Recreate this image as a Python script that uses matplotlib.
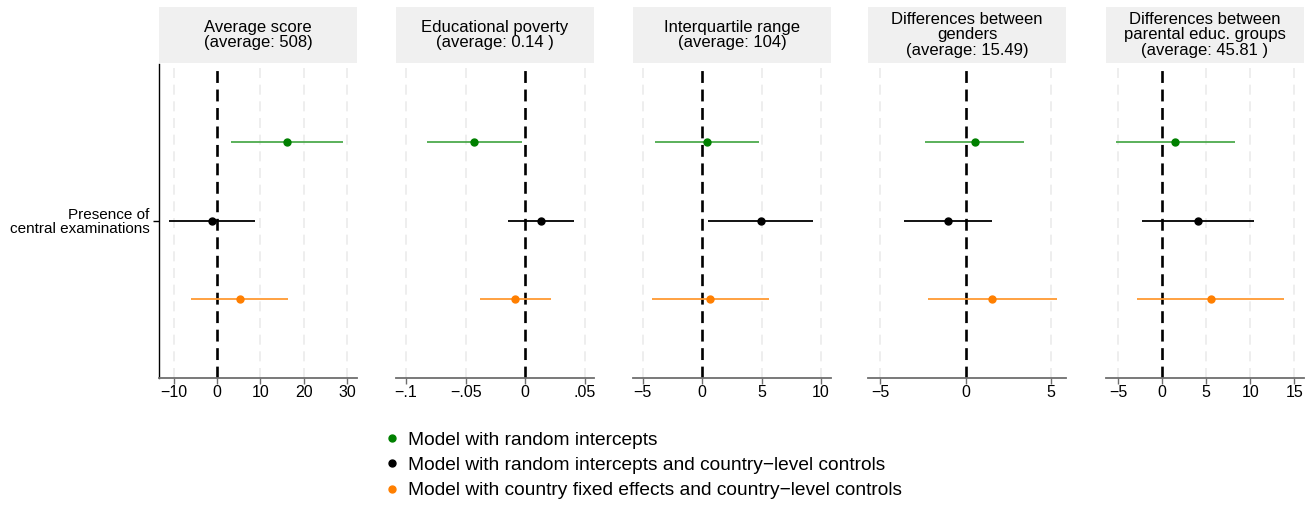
import matplotlib
matplotlib.use("Agg")
import matplotlib.pyplot as plt
from matplotlib.lines import Line2D

plt.rcParams["font.family"] = ["Liberation Sans", "DejaVu Sans"]

# panel titles
titles = [
    "Average score\n(average: 508)",
    "Educational poverty\n(average: 0.14 )",
    "Interquartile range\n(average: 104)",
    "Differences between\ngenders\n(average: 15.49)",
    "Differences between\nparental educ. groups\n(average: 45.81 )",
]

models = [
    "Model with random intercepts",
    "Model with random intercepts and country\u2212level controls",
    "Model with country fixed effects and country\u2212level controls",
]
point_colors = ["#008000", "#000000", "#FF7F00"]
line_colors = ["#4DAA4D", "#000000", "#FF9A33"]

# estimates per panel: [random intercepts, + controls, fixed effects]
est = [
    [16.2, -1.15, 5.2],
    [-0.0427, 0.0129, -0.0088],
    [0.42, 4.92, 0.67],
    [0.54, -1.02, 1.56],
    [1.47, 4.05, 5.52],
]
ci_low = [
    [3.3, -11.1, -5.9],
    [-0.0821, -0.0147, -0.0383],
    [-3.98, 0.53, -4.23],
    [-2.35, -3.57, -2.2],
    [-5.2, -2.3, -2.8],
]
ci_high = [
    [29.1, 8.85, 16.3],
    [-0.0023, 0.0407, 0.0216],
    [4.79, 9.33, 5.6],
    [3.41, 1.56, 5.32],
    [8.24, 10.4, 13.83],
]

xlims = [(-13.4, 32.3), (-0.1085, 0.0578), (-5.8, 10.84), (-5.7, 5.86), (-6.35, 16.1)]
xticks = [
    [-10, 0, 10, 20, 30],
    [-0.1, -0.05, 0, 0.05],
    [-5, 0, 5, 10],
    [-5, 0, 5],
    [-5, 0, 5, 10, 15],
]
xticklabels = [
    ["\u221210", "0", "10", "20", "30"],
    ["\u2212.1", "\u2212.05", "0", ".05"],
    ["\u22125", "0", "5", "10"],
    ["\u22125", "0", "5"],
    ["\u22125", "0", "5", "10", "15"],
]

W, H = 1313, 505
fig = plt.figure(figsize=(W / 100, H / 100), dpi=100)


def rect(x0, y0, x1, y1):
    return [x0 / W, 1 - y1 / H, (x1 - x0) / W, (y1 - y0) / H]


lefts = [159, 396, 633, 868, 1106]
pw = 198
rows = [1, 2, 3]

for i, left in enumerate(lefts):
    ax = fig.add_axes(rect(left, 63.5, left + pw, 377.5))
    ax.set_xlim(*xlims[i])
    ax.set_ylim(4, 0)
    for t in xticks[i]:
        if t != 0:
            ax.axvline(t, color="#EBEBEB", lw=1.2, ls=(0, (6, 4)), zorder=0)
    ax.axvline(0, color="black", lw=1.9, ls=(0, (4.5, 2.5)), zorder=1)
    for j in range(3):
        ax.plot([ci_low[i][j], ci_high[i][j]], [rows[j], rows[j]],
                color=line_colors[j], lw=1.3, zorder=2, solid_capstyle="butt")
        ax.plot(est[i][j], rows[j], "o", color=point_colors[j], ms=5, zorder=3)
    ax.set_xticks(xticks[i])
    ax.set_xticklabels(xticklabels[i], fontsize=11.5)
    ax.tick_params(axis="x", color="#6E6E6E", length=4, width=1, pad=1.5)
    for s in ["top", "right"]:
        ax.spines[s].set_visible(False)
    ax.spines["bottom"].set_color("#6E6E6E")
    ax.spines["bottom"].set_linewidth(1.3)
    if i == 0:
        ax.spines["left"].set_color("black")
        ax.spines["left"].set_linewidth(1)
        ax.set_yticks([2])
        ax.set_yticklabels(["Presence of\ncentral examinations"], fontsize=11,
                           ha="right", linespacing=1.0)
        ax.tick_params(axis="y", length=4, width=1, pad=3)
    else:
        ax.spines["left"].set_visible(False)
        ax.set_yticks([])

    strip = fig.add_axes(rect(left, 7, left + pw, 63))
    strip.set_facecolor("#F0F0F0")
    strip.set_xticks([])
    strip.set_yticks([])
    for s in strip.spines.values():
        s.set_visible(False)
    strip.text(0.5, 0.5, titles[i], ha="center", va="center", fontsize=12,
               linespacing=1.08, transform=strip.transAxes)

handles = [Line2D([], [], marker="o", ls="", color=c, ms=5) for c in point_colors]
fig.legend(handles, models, loc="upper left", bbox_to_anchor=(373 / W, 1 - 424 / H),
           frameon=False, fontsize=13.8, handletextpad=0.2, labelspacing=0.4,
           handlelength=1.2, borderaxespad=0)

fig.savefig("out.png", dpi=100)
